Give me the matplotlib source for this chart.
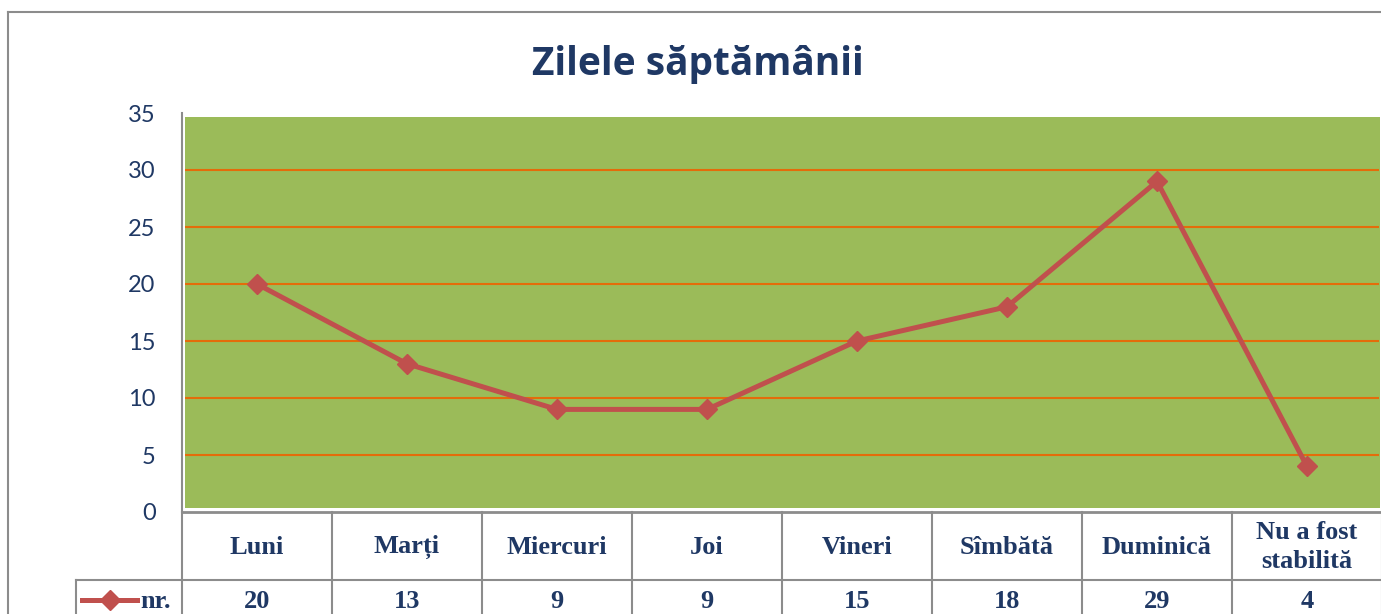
import numpy as np
import matplotlib
matplotlib.use('Agg')
import matplotlib.pyplot as plt
from matplotlib.lines import Line2D
from matplotlib.patches import Rectangle
import matplotlib.transforms as mtransforms

# data
zile = ['Luni', 'Marți', 'Miercuri', 'Joi', 'Vineri', 'Sîmbătă', 'Duminică', 'Nu a fost\nstabilită']
nr = [20, 13, 9, 9, 15, 18, 29, 4]
yticks = [0, 5, 10, 15, 20, 25, 30, 35]

W, H = 1381, 614
navy = '#1F3864'
grey = '#8C8C8C'
red = '#C0504D'

fig = plt.figure(figsize=(W / 100, H / 100), dpi=100)

def fx(px):
    return px / W

def fy(py):
    return 1 - py / H

# outer chart frame (left and top edges visible)
fig.add_artist(Line2D([fx(8), fx(8)], [fy(12), 0], color=grey, lw=1.5))
fig.add_artist(Line2D([fx(8), 1], [fy(12), fy(12)], color=grey, lw=1.5))

fig.text(fx(698), fy(64), 'Zilele săptămânii', ha='center', va='center',
         fontsize=28, fontweight='bold', color=navy, family='Open Sans')

ax = fig.add_axes([fx(182), fy(512), fx(1200), (512 - 113) / H])
x = np.arange(len(zile))
ax.set_xlim(-0.5, len(zile) - 0.5)
ax.set_ylim(0, 35)

# green plot area slightly inset
ax.add_patch(Rectangle((0.0025, 0.01), 0.9955, 0.98, transform=ax.transAxes,
                       facecolor='#9BBB59', edgecolor='none', zorder=0))
ax.hlines(yticks[1:-1], -0.48, len(zile) - 0.52, color='#E46C0A', lw=1.5, zorder=1)

ax.plot(x, nr, color=red, lw=3.6, marker='D', markersize=10, zorder=3)

ax.set_yticks(yticks)
ax.set_yticklabels([str(v) for v in yticks], family='Lato', fontsize=17, color=navy)
ax.tick_params(axis='y', length=0, pad=19)
ax.set_xticks([])
for s in ['top', 'right', 'bottom']:
    ax.spines[s].set_visible(False)
ax.spines['left'].set_color(grey)
ax.spines['left'].set_linewidth(1.5)

# data table under the axis
tr = mtransforms.blended_transform_factory(ax.transData, fig.transFigure)
edges = np.arange(len(zile) + 1) - 0.5
for e in edges:
    ax.add_line(Line2D([e, e], [fy(512), 0], transform=tr, color=grey, lw=1.5, clip_on=False))
ax.add_line(Line2D([edges[0], edges[-1]], [fy(512), fy(512)], transform=tr,
                   color=grey, lw=2, clip_on=False))
fig.add_artist(Line2D([fx(76), 1], [fy(580), fy(580)], color=grey, lw=1.5))
fig.add_artist(Line2D([fx(76), fx(76)], [fy(580), 0], color=grey, lw=1.5))

for xi, lab, v in zip(x, zile, nr):
    ax.text(xi, fy(547), lab, transform=tr, ha='center', va='center', fontsize=19,
            fontweight='bold', color=navy, family='Liberation Serif', linespacing=1.3)
    ax.text(xi, fy(601), str(v), transform=tr, ha='center', va='center', fontsize=19,
            fontweight='bold', color=navy, family='Liberation Serif')

# legend key in the row header
fig.add_artist(Line2D([fx(82), fx(137)], [fy(600), fy(600)], color=red, lw=3.6))
fig.add_artist(Line2D([fx(110)], [fy(600)], color=red, marker='D', markersize=10))
fig.text(fx(140), fy(601), 'nr.', ha='left', va='center', fontsize=19,
         fontweight='bold', color=navy, family='Liberation Serif')

fig.savefig('out.png', dpi=100)
